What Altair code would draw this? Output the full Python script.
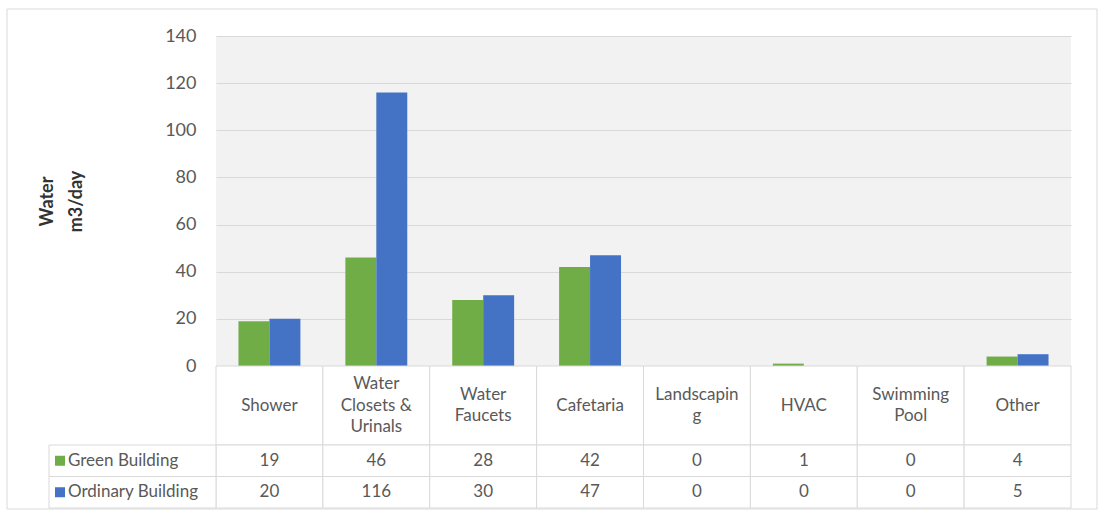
import altair as alt
import pandas as pd

# ---- data -----------------------------------------------------------------
categories = [
    "Shower", "Water Closets & Urinals", "Water Faucets", "Cafetaria",
    "Landscaping", "HVAC", "Swimming Pool", "Other",
]
category_lines = [
    ["Shower"], ["Water", "Closets &", "Urinals"], ["Water", "Faucets"],
    ["Cafetaria"], ["Landscapin", "g"], ["HVAC"], ["Swimming", "Pool"], ["Other"],
]
series = ["Green Building", "Ordinary Building"]
green_values = [19, 46, 28, 42, 0, 1, 0, 4]
ordinary_values = [20, 116, 30, 47, 0, 0, 0, 5]
series_colors = ["#70AD47", "#4472C4"]
y_ticks = [0, 20, 40, 60, 80, 100, 120, 140]

rows = []
for name, vals in zip(series, [green_values, ordinary_values]):
    for cat, v in zip(categories, vals):
        rows.append({"category": cat, "series": name, "value": v})
df = pd.DataFrame(rows)
cat_df = pd.DataFrame({"category": categories, "label": category_lines})
key_df = pd.DataFrame({"series": series})

# ---- styling ----------------------------------------------------------------
FONT = "Lato"
TEXT = "#595959"
BORDER = "#d9d9d9"
PLOT_W, PLOT_H = 855, 330
CAT_H, TABLE_H = 79, 63
LINE_H = 21.5

x_scale = alt.Scale(domain=categories, paddingInner=0, paddingOuter=0)
color_scale = alt.Scale(domain=series, range=series_colors)
row_scale = alt.Scale(domain=series, paddingInner=0, paddingOuter=0)
x_enc = alt.X("category:N", scale=x_scale, axis=None, sort=categories)

# ---- clustered columns ------------------------------------------------------
bars = alt.Chart(df).mark_bar().encode(
    x=x_enc,
    xOffset=alt.XOffset("series:N", sort=series,
                        scale=alt.Scale(domain=series, paddingInner=0, paddingOuter=0.726)),
    y=alt.Y(
        "value:Q",
        scale=alt.Scale(domain=[0, 140], nice=False),
        axis=alt.Axis(
            values=y_ticks, title=["Water", "m3/day"], grid=True, gridColor=BORDER,
            domain=False, ticks=False, tickSize=0, labelPadding=20,
            labelFont=FONT, labelFontSize=18, labelColor=TEXT,
            titleFont=FONT, titleFontSize=18, titleFontWeight="bold",
            titleColor="#333333", titleLineHeight=29, titlePadding=79,
        ),
    ),
    color=alt.Color("series:N", scale=color_scale, legend=None),
).properties(
    width=PLOT_W, height=PLOT_H,
    view=alt.ViewBackground(fill="#f2f2f2", stroke=None),
)

# ---- data table: category header row ---------------------------------------
cat_cells = alt.Chart(cat_df).mark_rect(fill="white", stroke=BORDER, strokeWidth=1).encode(
    x=x_enc, y=alt.value(0), y2=alt.value("height"),
)
# wrapped labels are centred vertically in the header cell
cat_text = alt.Chart(cat_df).transform_calculate(
    ty=f"{CAT_H / 2} - (length(datum.label) - 1) * {LINE_H / 2}"
).mark_text(
    font=FONT, fontSize=17, color=TEXT, lineHeight=LINE_H, baseline="middle",
).encode(x=x_enc, y=alt.Y("ty:Q", scale=None, axis=None), text="label")
cat_row = alt.layer(cat_cells, cat_text).properties(width=PLOT_W, height=CAT_H)

# ---- data table: value rows with legend keys -------------------------------
y_row = alt.Y("series:N", scale=row_scale, axis=None, sort=series)
frame = alt.Chart(pd.DataFrame({"k": [0]})).mark_rect(
    fill="transparent", stroke=BORDER, strokeWidth=1,
).encode(x=alt.value(-209), x2=alt.value(881), y=alt.value(-436), y2=alt.value(64))
val_cells = alt.Chart(df).mark_rect(fill="white", stroke=BORDER, strokeWidth=1).encode(
    x=x_enc, y=y_row,
)
val_text = alt.Chart(df).mark_text(font=FONT, fontSize=17, color=TEXT).encode(
    x=x_enc, y=y_row, text="value:Q",
)
key_cells = alt.Chart(key_df).mark_rect(fill="white", stroke=BORDER, strokeWidth=1).encode(
    x=alt.value(-167), x2=alt.value(0), y=y_row,
)
key_marks = alt.Chart(key_df).mark_square(size=100, opacity=1).encode(
    x=alt.value(-156), y=y_row,
    color=alt.Color("series:N", scale=color_scale, legend=None),
)
key_text = alt.Chart(key_df).mark_text(
    font=FONT, fontSize=17, color=TEXT, align="left",
).encode(x=alt.value(-148), y=y_row, text="series:N")
table = alt.layer(frame, val_cells, val_text, key_cells, key_marks, key_text).properties(
    width=PLOT_W, height=TABLE_H,
)

chart = alt.vconcat(bars, cat_row, table, spacing=0, bounds="flush").configure_view(
    stroke=None,
).properties(
    padding={"left": 6, "top": 8, "right": 0, "bottom": 0},
    background="white",
)

chart.save("out.html", embed_options={"renderer": "svg", "actions": False})
